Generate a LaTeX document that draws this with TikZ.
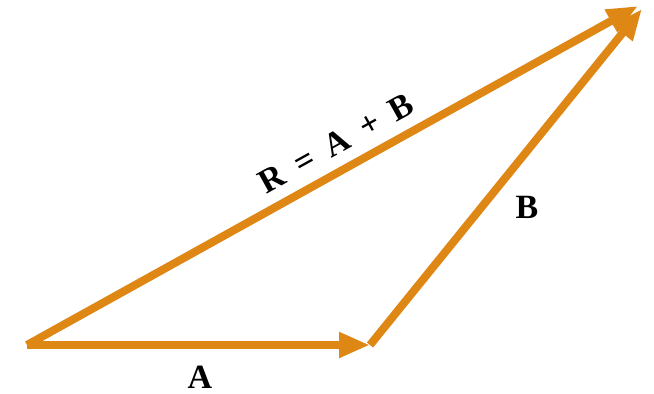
\documentclass[tikz,border=0pt]{standalone}
\usepackage{fontspec}
\setmainfont{Liberation Serif}
\usetikzlibrary{arrows.meta}
\definecolor{vecor}{RGB}{223,135,20}
\begin{document}
\begin{tikzpicture}[x=1pt,y=-1pt,
  vec/.style={draw=vecor,line width=8pt,-{Triangle[length=31pt,width=24pt]}},
  lbl/.style={font=\bfseries\fontsize{34}{34}\selectfont,inner sep=0pt}]
\useasboundingbox (0,0) rectangle (654,394);
\coordinate (O) at (27,345);
\coordinate (P) at (370,345);
\coordinate (Q) at (642,9);
\coordinate (Rt) at (638,6);
\draw[vec] (O) -- (P);
\draw[vec] (P) -- (Q);
\draw[vec] (O) -- (Rt);
\node[lbl] (la) at (200,377) {A};
\node[lbl] (lb) at (527,207) {B};
\node[lbl,rotate=29.1] (lr) at (336,143) {R\hspace{0.45em}=\hspace{0.45em}A\hspace{0.45em}+\hspace{0.45em}B};
\end{tikzpicture}
\end{document}
